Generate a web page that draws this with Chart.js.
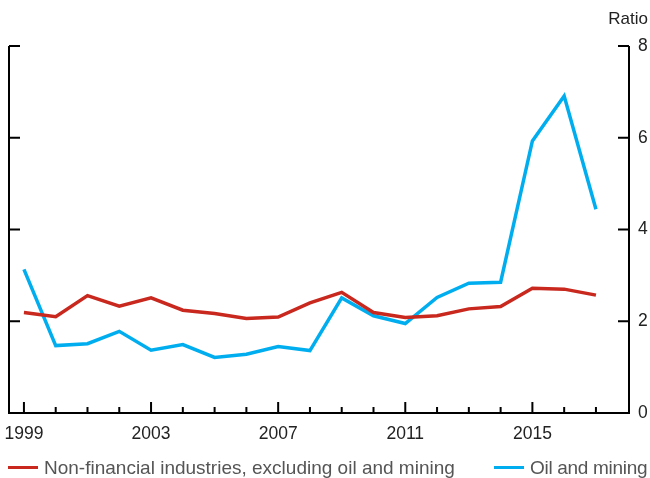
<!DOCTYPE html>
<html>
<head>
<meta charset="utf-8">
<script src="https://cdn.jsdelivr.net/npm/chart.js@4"></script>
<style>
  html, body { margin: 0; padding: 0; background: #fff; }
  #wrap { position: relative; width: 650px; height: 478px; overflow: hidden; }
  .legend { position: absolute; top: 457px; font: 19px "Liberation Sans", Arial, sans-serif; color: #555; white-space: nowrap; line-height: 22px; }
  .legend span.swatch { display: inline-block; width: 30px; height: 3px; vertical-align: middle; margin-right: 6px; position: relative; top: -1px; }
</style>
</head>
<body>
<div id="wrap">
  <canvas id="chart" width="650" height="478"></canvas>
  <div class="legend" style="left:8px"><span class="swatch" style="background:#c8281e"></span>Non-financial industries, excluding oil and mining</div>
  <div class="legend" style="left:494px; letter-spacing:-0.3px"><span class="swatch" style="background:#00aeef"></span>Oil and mining</div>
</div>
<script>
// annual values
const years = [1999, 2000, 2001, 2002, 2003, 2004, 2005, 2006, 2007, 2008,
               2009, 2010, 2011, 2012, 2013, 2014, 2015, 2016, 2017];
const nonFinancial = [2.19, 2.10, 2.56, 2.33, 2.51, 2.24, 2.17, 2.06, 2.09, 2.40,
                      2.63, 2.19, 2.08, 2.12, 2.27, 2.32, 2.72, 2.70, 2.57];
const oilMining = [3.13, 1.47, 1.51, 1.78, 1.37, 1.49, 1.21, 1.28, 1.45, 1.36,
                   2.51, 2.12, 1.95, 2.52, 2.83, 2.85, 5.93, 6.91, 4.44];
const labelYears = [1999, 2003, 2007, 2011, 2015];
const yTicks = [0, 2, 4, 6, 8];

const RED = '#c8281e';
const BLUE = '#00aeef';
const FONT = '"Liberation Sans", Arial, sans-serif';

// frame + inward ticks, drawn from the scales
const framePlugin = {
    id: 'frame',
    afterDraw(chart) {
        const ctx = chart.ctx;
        const a = chart.chartArea;
        const x = chart.scales.x;
        const y = chart.scales.y;
        ctx.save();
        ctx.strokeStyle = '#000';
        ctx.lineWidth = 2;
        ctx.beginPath();
        ctx.moveTo(a.left, a.top);
        ctx.lineTo(a.left, a.bottom);
        ctx.lineTo(a.right, a.bottom);
        ctx.lineTo(a.right, a.top);
        yTicks.forEach((v) => {
            if (v === 0) return;
            const py = y.getPixelForValue(v);
            ctx.moveTo(a.left, py);
            ctx.lineTo(a.left + 11, py);
            ctx.moveTo(a.right, py);
            ctx.lineTo(a.right - 11, py);
        });
        years.forEach((yr) => {
            const px = x.getPixelForValue(yr);
            const len = labelYears.includes(yr) ? 11 : 6;
            ctx.moveTo(px, a.bottom);
            ctx.lineTo(px, a.bottom - len);
        });
        ctx.stroke();

        ctx.fillStyle = '#222';
        ctx.font = '17px ' + FONT;
        ctx.textAlign = 'right';
        ctx.textBaseline = 'middle';
        ctx.fillText('Ratio', chart.width - 2, 19);
        ctx.restore();
    },
};

new Chart(document.getElementById('chart'), {
    type: 'line',
    data: {
        datasets: [
            {
                label: 'Non-financial industries, excluding oil and mining',
                data: years.map((yr, i) => ({ x: yr, y: nonFinancial[i] })),
                borderColor: RED,
                borderWidth: 3.5,
                pointRadius: 0,
                tension: 0,
            },
            {
                label: 'Oil and mining',
                data: years.map((yr, i) => ({ x: yr, y: oilMining[i] })),
                borderColor: BLUE,
                borderWidth: 3.5,
                pointRadius: 0,
                tension: 0,
            },
        ],
    },
    options: {
        responsive: false,
        animation: false,
        layout: { padding: { left: 9, top: 46, right: 0, bottom: 0 } },
        plugins: { legend: { display: false }, tooltip: { enabled: false } },
        scales: {
            x: {
                type: 'linear',
                min: 1998.53,
                max: 2018.04,
                grid: { display: false, drawTicks: false },
                border: { display: false },
                afterBuildTicks: (s) => { s.ticks = labelYears.map((v) => ({ value: v })); },
                afterFit: (s) => { s.height = 65; s.paddingLeft = 0; s.paddingRight = 0; },
                ticks: {
                    autoSkip: false,
                    maxRotation: 0,
                    padding: 11,
                    color: '#222',
                    font: { family: FONT, size: 17.5 },
                    callback: (v) => String(v),
                },
            },
            y: {
                position: 'right',
                min: 0,
                max: 8,
                grid: { display: false, drawTicks: false },
                border: { display: false },
                afterBuildTicks: (s) => { s.ticks = yTicks.map((v) => ({ value: v })); },
                afterFit: (s) => { s.width = 21; s.paddingTop = 0; s.paddingBottom = 0; },
                ticks: {
                    padding: 9,
                    color: '#222',
                    font: { family: FONT, size: 17.5 },
                },
            },
        },
    },
    plugins: [framePlugin],
});
</script>
</body>
</html>
